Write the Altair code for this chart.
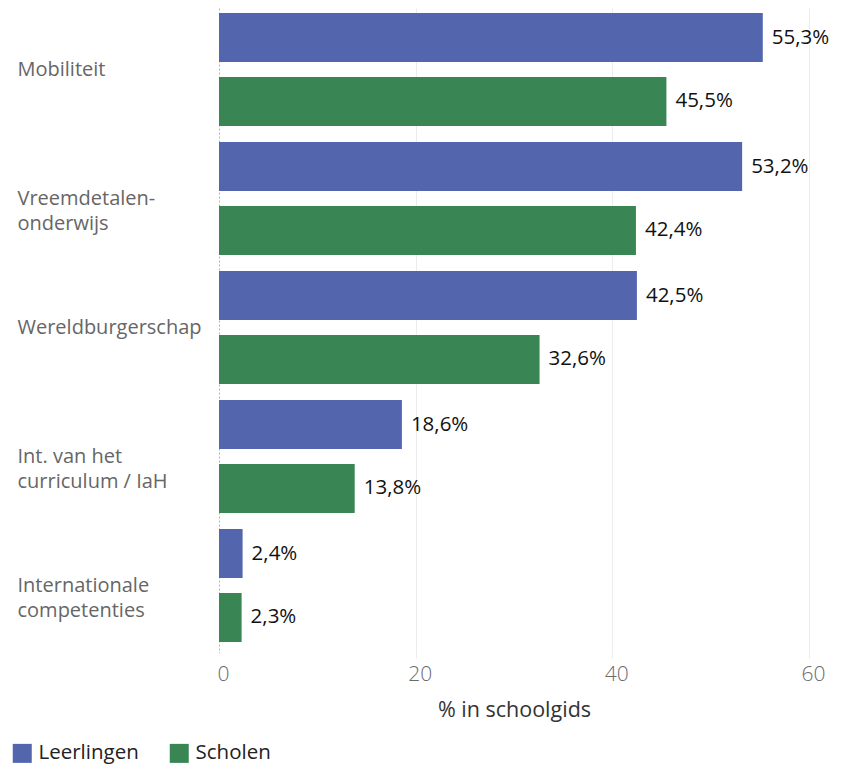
import altair as alt
import pandas as pd

categories = [
    "Mobiliteit",
    "Vreemdetalen-\nonderwijs",
    "Wereldburgerschap",
    "Int. van het\ncurriculum / IaH",
    "Internationale\ncompetenties",
]
series = ["Leerlingen", "Scholen"]
leerlingen = [55.3, 53.2, 42.5, 18.6, 2.4]
scholen = [45.5, 42.4, 32.6, 13.8, 2.3]
x_ticks = [0, 20, 40, 60]
colors = ["#5366ad", "#398554"]

rows = []
for c, a, b in zip(categories, leerlingen, scholen):
    rows.append({"cat": c, "serie": series[0], "val": a})
    rows.append({"cat": c, "serie": series[1], "val": b})
df = pd.DataFrame(rows)

FONT = "Open Sans"

y_enc = alt.Y(
    "cat:N",
    sort=categories,
    title=None,
    scale=alt.Scale(paddingInner=0.124, paddingOuter=0.062, align=0.3125),
    axis=alt.Axis(
        labelExpr="split(datum.label, '\\n')",
        labelAlign="left",
        labelPadding=202,
        labelFontSize=20,
        labelColor="#666666",
        labelFont=FONT,
        labelLineHeight=25,
        labelLimit=300,
        ticks=False,
        domain=True,
        domainColor="#b5b5b5",
        domainDash=[2, 2],
        domainWidth=1,
    ),
)
yoff = alt.YOffset(
    "serie:N",
    sort=series,
    scale=alt.Scale(paddingInner=0.234, paddingOuter=0),
)

x_enc = alt.X(
    "val:Q",
    title="% in schoolgids",
    scale=alt.Scale(domain=[0, 60], nice=False),
    axis=alt.Axis(
        values=x_ticks,
        grid=True,
        gridColor={"condition": {"test": "datum.value === 0", "value": "transparent"}, "value": "#ececec"},
        gridWidth=1,
        domain=False,
        ticks=True,
        tickColor={"condition": {"test": "datum.value === 0", "value": "transparent"}, "value": "#ececec"},
        tickSize=5,
        labelPadding=5,
        labelFlush=False,
        labelOffset=4,
        labelFontSize=21,
        labelColor="#6b6b6b",
        labelFont=FONT,
        labelFontWeight=300,
        titleFontSize=21.5,
        titleColor="#333333",
        titleFont=FONT,
        titleFontWeight="normal",
        titlePadding=15,
    ),
)

color_enc = alt.Color(
    "serie:N",
    sort=series,
    scale=alt.Scale(domain=series, range=colors),
    legend=alt.Legend(
        title=None,
        orient="none",
        legendX=-207,
        legendY=735,
        direction="horizontal",
        symbolType="square",
        symbolSize=361,
        symbolStrokeWidth=0,
        symbolOpacity=1,
        labelFontSize=20.5,
        labelFont=FONT,
        labelColor="#222222",
        labelOffset=6,
        columnPadding=30,
        padding=0,
    ),
)

bars = alt.Chart(df).mark_bar().encode(
    y=y_enc, yOffset=yoff, x=x_enc, color=color_enc
)

text = (
    alt.Chart(df)
    .transform_calculate(lbl="replace(format(datum.val, '.1f'), '.', ',') + '%'")
    .mark_text(align="left", baseline="middle", dx=9, fontSize=20.5, font=FONT, color="#111111")
    .encode(y=alt.Y("cat:N", sort=categories), yOffset=alt.YOffset("serie:N", sort=series), x="val:Q", text="lbl:N")
)

chart = (
    alt.layer(bars, text)
    .properties(
        width=590,
        height=645,
        autosize=alt.AutoSizeParams(type="none"),
        padding={"left": 211, "top": 0, "right": 23, "bottom": 113},
    )
    .configure_view(stroke=None)
)

chart.save("out.html", embed_options={"renderer": "svg", "actions": False})
